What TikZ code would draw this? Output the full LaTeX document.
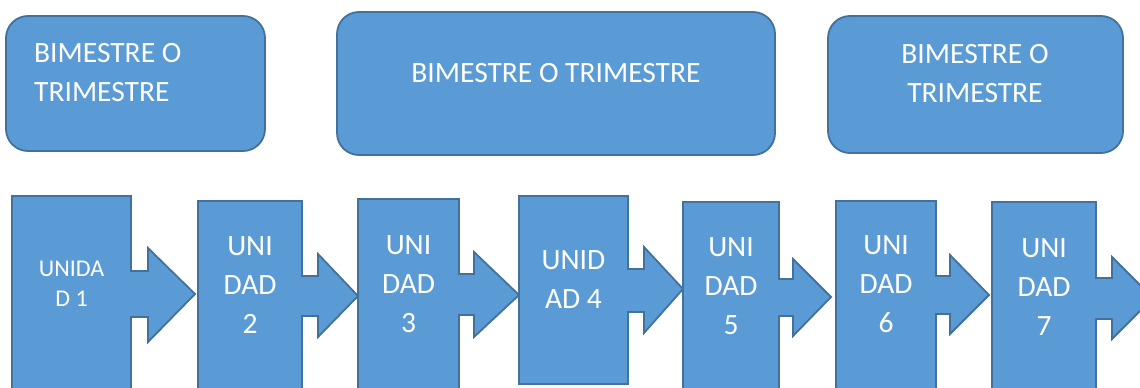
\documentclass[tikz,border=0pt]{standalone}
\usepackage{fontspec}
\setmainfont{Carlito}
\definecolor{boxfill}{HTML}{5B9BD5}
\definecolor{boxline}{HTML}{41719C}
\tikzset{
  shapebox/.style={fill=boxfill, draw=boxline, line width=1.8pt, line join=miter},
  termbox/.style={shapebox, rounded corners=22pt},
  lbl/.style={text=white, inner sep=0pt, font=\fontsize{29.5}{39}\selectfont, anchor=base, align=center},
  lblsmall/.style={lbl, font=\fontsize{24}{30}\selectfont},
}
\begin{document}
\begin{tikzpicture}[x=1pt,y=-1pt]
\clip (0,0) rectangle (1140,388);
\fill[white] (0,0) rectangle (1140,388);
% top boxes
\draw[termbox] (6,16) rectangle (265,151);
\draw[termbox] (337,12) rectangle (775,155);
\draw[termbox] (828,16) rectangle (1123,153);
\node[lbl, align=left, anchor=base west] (t1) at (34,101) {BIMESTRE O\\TRIMESTRE};
\node[lbl] (t2) at (556,82) {BIMESTRE O TRIMESTRE};
\node[lbl] (t3) at (975,102) {BIMESTRE O\\TRIMESTRE};
% bottom arrow callouts
\draw[shapebox] (12,196) -- (131,196) -- (131,271) -- (148,271) -- (148,248) -- (195,294) -- (148,342) -- (148,317) -- (131,317) -- (131,400) -- (12,400) -- cycle;
\draw[shapebox] (198,201) -- (302,201) -- (302,276) -- (318,276) -- (318,254) -- (358,296) -- (318,337) -- (318,316) -- (302,316) -- (302,400) -- (198,400) -- cycle;
\draw[shapebox] (358,199) -- (459,199) -- (459,274) -- (474,274) -- (474,252) -- (519,295) -- (474,337) -- (474,315) -- (459,315) -- (459,400) -- (358,400) -- cycle;
\draw[shapebox] (519,196) -- (628,196) -- (628,269) -- (644,269) -- (644,247) -- (683,289) -- (644,333) -- (644,312) -- (628,312) -- (628,384) -- (519,384) -- cycle;
\draw[shapebox] (683,202) -- (779,202) -- (779,279) -- (793,279) -- (793,259) -- (831,297) -- (793,336) -- (793,316) -- (779,316) -- (779,400) -- (683,400) -- cycle;
\draw[shapebox] (836,201) -- (936,201) -- (936,276) -- (950,276) -- (950,255) -- (989,295) -- (950,334) -- (950,314) -- (936,314) -- (936,400) -- (836,400) -- cycle;
\draw[shapebox] (992,202) -- (1096,202) -- (1096,278) -- (1112,278) -- (1112,257) -- (1153,298) -- (1112,339) -- (1112,319) -- (1096,319) -- (1096,400) -- (992,400) -- cycle;
% labels (anchored at the baseline of the last line)
\node[lblsmall] (u1) at (71.5,306) {UNIDA\\D 1};
\node[lbl] (u2) at (250,333) {UNI\\DAD\\2};
\node[lbl] (u3) at (408.5,332) {UNI\\DAD\\3};
\node[lbl] (u4) at (573.5,308) {UNID\\AD 4};
\node[lbl] (u5) at (731,334) {UNI\\DAD\\5};
\node[lbl] (u6) at (886,332) {UNI\\DAD\\6};
\node[lbl] (u7) at (1044,335) {UNI\\DAD\\7};
\end{tikzpicture}
\end{document}
